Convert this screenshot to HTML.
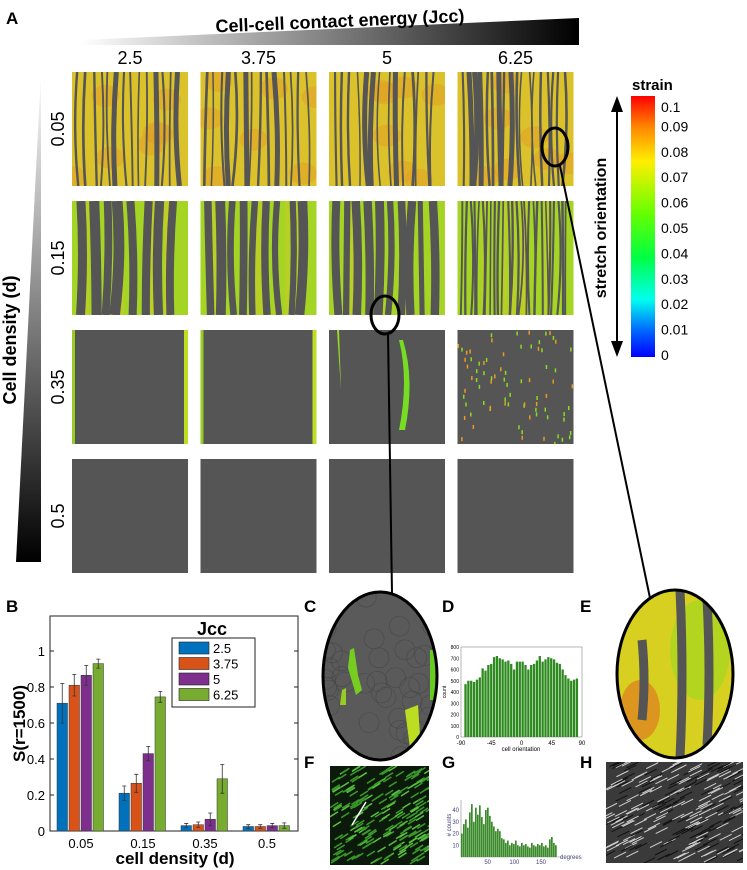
<!DOCTYPE html>
<html><head><meta charset="utf-8">
<style>
body{margin:0;background:#fff;width:747px;height:870px;overflow:hidden;font-family:"Liberation Sans",sans-serif}
svg{position:absolute;left:0;top:0}
</style></head><body>
<svg id="fig" width="747" height="870" viewBox="0 0 747 870">
<defs>
<linearGradient id="gH" x1="0" x2="1" y1="0" y2="0"><stop offset="0" stop-color="#fff"/><stop offset="1" stop-color="#000"/></linearGradient>
<linearGradient id="gV" x1="0" x2="0" y1="0" y2="1"><stop offset="0" stop-color="#fff"/><stop offset="1" stop-color="#000"/></linearGradient>
<linearGradient id="cbar" x1="0" x2="0" y1="0" y2="1">
<stop offset="0" stop-color="#ff0000"/><stop offset="0.12" stop-color="#ff8800"/><stop offset="0.25" stop-color="#ffee00"/><stop offset="0.45" stop-color="#66ff00"/><stop offset="0.62" stop-color="#00ff44"/><stop offset="0.78" stop-color="#00ffee"/><stop offset="0.9" stop-color="#0066ff"/><stop offset="1" stop-color="#0000ff"/></linearGradient>
<clipPath id="clipC"><ellipse cx="380" cy="676" rx="57" ry="84"/></clipPath>
<clipPath id="clipE"><ellipse cx="675" cy="674" rx="58" ry="84"/></clipPath>
</defs>

<text x="6" y="24" font-size="17" font-weight="bold">A</text>
<polygon points="81,40 579,18 579,45 81,45" fill="url(#gH)"/>
<text x="340" y="27" font-size="18" font-weight="bold" text-anchor="middle" transform="rotate(-2.5 340 22)">Cell-cell contact energy (Jcc)</text>
<g font-size="18" text-anchor="middle" id="colLabels"></g>
<polygon points="41,72 41,562 16,562" fill="url(#gV)"/>
<text x="0" y="0" font-size="18" font-weight="bold" text-anchor="middle" transform="translate(16 340) rotate(-90)">Cell density (d)</text>
<g id="rowLabels" font-size="18" text-anchor="middle"></g>
<g id="tiles"></g>

<text x="632" y="90" font-size="15" font-weight="bold">strain</text>
<rect x="631" y="96" width="24" height="261" fill="url(#cbar)"/>
<g id="cbTicks" font-size="14"></g>
<line x1="617" y1="108" x2="617" y2="345" stroke="#000" stroke-width="2"/>
<polygon points="617,96 611,112 623,112" fill="#000"/><polygon points="617,357 611,341 623,341" fill="#000"/>
<text font-size="16" font-weight="bold" text-anchor="middle" transform="translate(606 228) rotate(-90)">stretch orientation</text>

<ellipse cx="555" cy="147" rx="13" ry="19" fill="none" stroke="#000" stroke-width="3"/>
<line x1="560" y1="166" x2="650" y2="598" stroke="#000" stroke-width="2"/>
<ellipse cx="385" cy="315" rx="14" ry="19" fill="none" stroke="#000" stroke-width="3"/>
<line x1="388" y1="334" x2="392" y2="593" stroke="#000" stroke-width="2"/>

<text x="6" y="612" font-size="17" font-weight="bold">B</text>
<g id="chartB"></g>

<text x="304" y="612" font-size="17" font-weight="bold">C</text>
<g id="panelC"></g>
<text x="442" y="612" font-size="17" font-weight="bold">D</text>
<g id="chartD"></g>
<text x="580" y="612" font-size="17" font-weight="bold">E</text>
<g id="panelE"></g>
<text x="304" y="768" font-size="17" font-weight="bold">F</text>
<rect x="330" y="766" width="99" height="99" fill="#0c1a0c"/>
<g id="panelF"></g>
<text x="442" y="768" font-size="17" font-weight="bold">G</text>
<g id="chartG"></g>
<text x="580" y="768" font-size="17" font-weight="bold">H</text>
<rect x="606" y="762" width="137" height="101" fill="#3a3a3a"/>
<g id="panelH"></g>
</svg>
<script>
// ---- Chart B data ----
const bCategories = ["0.05","0.15","0.35","0.5"];
const bSeriesNames = ["2.5","3.75","5","6.25"];
const bColors = ["#0072bd","#d95319","#7e2f8e","#77ac30"];
const bS25 = [0.71,0.21,0.03,0.025];
const bS375 = [0.81,0.265,0.035,0.025];
const bS5 = [0.865,0.43,0.065,0.03];
const bS625 = [0.93,0.745,0.29,0.03];
const bErr25 = [0.11,0.04,0.012,0.01];
const bErr375 = [0.06,0.05,0.015,0.01];
const bErr5 = [0.055,0.04,0.035,0.012];
const bErr625 = [0.025,0.03,0.08,0.015];
const bTicks = [0,0.2,0.4,0.6,0.8,1];
// ---- Chart D data ----
const dValues = [470,500,500,490,510,530,610,590,640,650,710,720,700,690,670,680,650,600,670,670,670,640,600,640,650,680,720,670,690,710,700,690,660,650,600,550,520,500,510,520];
const dXTicks = [-90,-45,0,45,90];
const dYTicks = [0,100,200,300,400,500,600,700,800];
// ---- Chart G data ----
const gValues = [20,28,32,25,38,45,30,42,36,44,34,28,40,42,35,30,26,22,24,22,16,15,12,14,10,12,11,14,10,9,12,10,11,9,8,12,10,9,11,10,12,9,10,8,15,17,12,10];
const gXTicks = [50,100,150];
const gYTicks = [10,20,30,40];
const colLabels = ["2.5","3.75","5","6.25"];
const rowLabels = ["0.05","0.15","0.35","0.5"];
const cbTicks = [0,0.01,0.02,0.03,0.04,0.05,0.06,0.07,0.08,0.09,0.1];

const NS="http://www.w3.org/2000/svg";
function mk(tag,attrs,parent){const e=document.createElementNS(NS,tag);for(const k in attrs)e.setAttribute(k,attrs[k]);parent.appendChild(e);return e;}
let seed=7;function rnd(){seed=(seed*16807)%2147483647;return seed/2147483647;}

const cl=document.getElementById('colLabels');
colLabels.forEach((t,i)=>{const e=mk('text',{x:130+i*128.5,y:64},cl);e.textContent=t;

});
const rl=document.getElementById('rowLabels');
rowLabels.forEach((t,i)=>{const e=mk('text',{transform:`translate(64 ${129+i*129}) rotate(-90)`},rl);e.textContent=t;

});
const cb=document.getElementById('cbTicks');
cbTicks.forEach(v=>{const y=357-v/0.1*254;const e=mk('text',{x:661,y:y+(v===0.1?11:5)-2},cb);e.textContent=String(v);

});

// tiles
const tg=document.getElementById('tiles');
const defs=document.querySelector('defs');
for(let r=0;r<4;r++)for(let c=0;c<4;c++){
 const x=72+c*128.5,y=72+r*129,w=116,h=114;
 const cp=mk('clipPath',{id:`tc${r}${c}`},defs);mk('rect',{x,y,width:w,height:h},cp);
 const g=mk('g',{'clip-path':`url(#tc${r}${c})`},tg);
 
 
 let bg = r===0?'#dcc22a':(r===1?'#a4d424':'#555555');
 mk('rect',{x,y,width:w,height:h,fill:bg},g);
 if(r===0){for(let k=0;k<7;k++)mk('ellipse',{cx:x+rnd()*w,cy:y+rnd()*h,rx:14,ry:11,fill:'#e0a024',opacity:0.55},g);}
 if(r===1){for(let k=0;k<6;k++)mk('rect',{x:x+rnd()*w,y:y,width:5,height:h,fill:'#d8c828',opacity:0.4},g);}
 if(r<2){
   let n=r===0?(c===3?18:14):(c===3?26:8+c);
   for(let k=0;k<n;k++){const sx=x+4+(k+0.4*rnd())*(w-8)/n;
     let sw=r===0?1.4+rnd()*1.4:(c===3?1.5+rnd():(7-c)+rnd()*4);
     if(r===0&&rnd()>0.85)sw=5;
     mk('path',{d:`M${sx} ${y} Q${sx+(rnd()-0.5)*10} ${y+h/2} ${sx+(rnd()-0.5)*6} ${y+h}`,stroke:'#555',fill:'none','stroke-width':sw},g);}
 }
 if(r===2){
   if(c<2){mk('rect',{x:x,y,width:3,height:h,fill:'#9c2'},g);mk('rect',{x:x+w-4,y,width:4,height:h,fill:'#bd2'},g);}
   if(c===2){mk('path',{d:`M${x+8} ${y} L${x+12} ${y+60} L${x+10} ${y} Z`,fill:'#9d2'},g);
     mk('path',{d:`M${x+70} ${y+10} Q${x+80} ${y+50} ${x+70} ${y+100} L${x+76} ${y+100} Q${x+86} ${y+50} ${x+74} ${y+10} Z`,fill:'#7d2'},g);}
   if(c===3){for(let k=0;k<80;k++)mk('rect',{x:x+rnd()*w,y:y+rnd()*h,width:1.5,height:4,fill:rnd()>0.4?'#8d2':'#e92'},g);}
 }
}

// Chart B
(function(){
const g=document.getElementById('chartB');
const L=50,R=298,T=616,B=831;
const yS=v=>B-v*(B-651);
const series=[bS25,bS375,bS5,bS625],errs=[bErr25,bErr375,bErr5,bErr625];
mk('rect',{x:L,y:T,width:R-L,height:B-T,fill:'none',stroke:'#222','stroke-width':1},g);
bTicks.forEach(t=>{const y=yS(t);mk('line',{x1:L,x2:L+4,y1:y,y2:y,stroke:'#222'},g);mk('line',{x1:R-4,x2:R,y1:y,y2:y,stroke:'#222'},g);
 const e=mk('text',{x:L-5,y:y+5,'font-size':13,'text-anchor':'end'},g);e.textContent=String(t);
 
 });
const gw=(R-L)/4;
bCategories.forEach((cat,i)=>{const cx=L+gw*(i+0.5);
 const e=mk('text',{x:cx,y:B+17,'font-size':13,'text-anchor':'middle'},g);e.textContent=cat;
 
 
 series.forEach((s,j)=>{const bw=10.5,bx=cx-24+j*12;const y=yS(s[i]);
  const r=mk('rect',{x:bx,y:y,width:bw,height:B-y,fill:bColors[j],stroke:'#333','stroke-width':0.5},g);
  
  
  const e1=yS(s[i]+errs[j][i]),e2=yS(s[i]-errs[j][i]),m=bx+bw/2;
  mk('path',{d:`M${m} ${e1}V${e2}M${m-2} ${e1}H${m+2}M${m-2} ${e2}H${m+2}`,stroke:'#333','stroke-width':0.8},g);
 });
});
const yl=mk('text',{transform:`translate(25 ${(T+B)/2}) rotate(-90)`,'font-size':17,'font-weight':'bold','text-anchor':'middle'},g);yl.textContent='S(r=1500)';


const xl=mk('text',{x:175,y:864,'font-size':17,'font-weight':'bold','text-anchor':'middle'},g);xl.textContent='cell density (d)';


const lt=mk('text',{x:212,y:635,'font-size':18,'font-weight':'bold','text-anchor':'middle'},g);lt.textContent='Jcc';


mk('rect',{x:172,y:638,width:83,height:69,fill:'#fff',stroke:'#222'},g);
bSeriesNames.forEach((n,j)=>{const y=642+j*15.5;
 const sw=mk('rect',{x:179,y:y,width:30,height:12,fill:bColors[j],stroke:'#222','stroke-width':0.6},g);
 
 
 const t=mk('text',{x:213,y:y+11,'font-size':13},g);t.textContent=n;});
})();

// Panel C
(function(){const g=document.getElementById('panelC');
mk('ellipse',{cx:380,cy:676,rx:57,ry:84,fill:'#5a5a5a'},g);
const c=mk('g',{'clip-path':'url(#clipC)'},g);
for(let k=0;k<40;k++){mk('circle',{cx:325+rnd()*110,cy:592+rnd()*170,r:10,fill:'none',stroke:'#484848','stroke-width':0.6},c);}
mk('path',{d:'M350 650 L354 648 L358 675 L362 690 L356 695 L348 668 Z',fill:'#7c2'},c);
mk('path',{d:'M342 690 L346 688 L346 705 L340 705 Z',fill:'#9c2'},c);
mk('path',{d:'M405 710 L418 705 L420 735 L410 748 Z',fill:'#bd2'},c);
mk('path',{d:'M430 650 L436 650 L436 700 L430 700 Z',fill:'#6c2'},c);
mk('ellipse',{cx:380,cy:676,rx:57,ry:84,fill:'none',stroke:'#000','stroke-width':3},g);

})();

// Panel E
(function(){const g=document.getElementById('panelE');
mk('ellipse',{cx:675,cy:674,rx:58,ry:84,fill:'#d8d020'},g);
const c=mk('g',{'clip-path':'url(#clipE)'},g);
mk('ellipse',{cx:700,cy:650,rx:30,ry:50,fill:'#9cd820',opacity:0.6},c);
mk('ellipse',{cx:640,cy:710,rx:20,ry:30,fill:'#e07020',opacity:0.6},c);
[[642,640,720],[680,590,758],[707,600,745]].forEach(s=>mk('path',{d:`M${s[0]} ${s[1]} Q${s[0]+4} ${(s[1]+s[2])/2} ${s[0]} ${s[2]}`,stroke:'#555','stroke-width':9,fill:'none'},c));
mk('ellipse',{cx:675,cy:674,rx:58,ry:84,fill:'none',stroke:'#000','stroke-width':3},g);

})();

// Chart D
(function(){const g=document.getElementById('chartD');
const L=461,R=582,T=647,B=737;
const xS=v=>L+(v+90)/180*(R-L),yS=v=>B-v/800*(B-T);
mk('rect',{x:L,y:T,width:R-L,height:B-T,fill:'none',stroke:'#888','stroke-width':0.6},g);
const bw=(xS(85)-xS(-85))/dValues.length;
dValues.forEach((v,i)=>{const x=xS(-85)+i*bw;const r=mk('rect',{x:x,y:yS(v),width:bw*0.8,height:B-yS(v),fill:'#2d8a1e'},g);
 
 });
dXTicks.forEach(t=>{const e=mk('text',{x:xS(t),y:B+8,'font-size':6,'text-anchor':'middle'},g);e.textContent=String(t);});
dYTicks.forEach(t=>{const e=mk('text',{x:L-2,y:yS(t)+2,'font-size':5,'text-anchor':'end'},g);e.textContent=String(t);});
const xl=mk('text',{x:521,y:751,'font-size':6,'text-anchor':'middle'},g);xl.textContent='cell orientation';
const yl=mk('text',{transform:'translate(446 692) rotate(-90)','font-size':5,'text-anchor':'middle'},g);yl.textContent='count';})();

// Chart G
(function(){const g=document.getElementById('chartG');
const L=461,R=557,B=857;
const xS=v=>L+v/180*(R-L),yS=v=>B-v*47/40;
mk('line',{x1:L,x2:L,y1:800,y2:B,stroke:'#888','stroke-width':0.6},g);
mk('line',{x1:L,x2:R+5,y1:B,y2:B,stroke:'#888','stroke-width':0.6},g);
const bw=(R-L)/gValues.length;
gValues.forEach((v,i)=>{const r=mk('rect',{x:L+i*bw,y:yS(v),width:bw*0.85,height:B-yS(v),fill:'#3a8a2a'},g);
 
 });
gXTicks.forEach(t=>{const e=mk('text',{x:xS(t),y:B+7,'font-size':6,fill:'#447','text-anchor':'middle'},g);e.textContent=String(t);});
gYTicks.forEach(t=>{const e=mk('text',{x:L-2,y:yS(t)+2,'font-size':6,fill:'#447','text-anchor':'end'},g);e.textContent=String(t);});
const xl=mk('text',{x:560,y:859,'font-size':6,fill:'#447'},g);xl.textContent='degrees';
const yl=mk('text',{transform:'translate(451 825) rotate(-90)','font-size':6,fill:'#447','text-anchor':'middle'},g);yl.textContent='# counts';})();

// Panel F texture
(function(){const g=document.getElementById('panelF');
const cp=mk('clipPath',{id:'clipF'},defs);mk('rect',{x:330,y:766,width:99,height:99},cp);
const c=mk('g',{'clip-path':'url(#clipF)'},g);
for(let k=0;k<220;k++){const x=330+rnd()*99,y=770+rnd()*95;mk('line',{x1:x,y1:y,x2:x+8,y2:y-5,stroke:rnd()>0.3?'#3a9a2a':'#5ac040','stroke-width':1.5},c);}
mk('line',{x1:352,y1:825,x2:366,y2:802,stroke:'#fff','stroke-width':1.5},g);})();
// Panel H texture
(function(){const g=document.getElementById('panelH');
const cp=mk('clipPath',{id:'clipH'},defs);mk('rect',{x:606,y:762,width:137,height:101},cp);
const c=mk('g',{'clip-path':'url(#clipH)'},g);
for(let k=0;k<260;k++){const x=600+rnd()*145,y=764+rnd()*100;mk('line',{x1:x,y1:y,x2:x+12,y2:y-6,stroke:rnd()>0.45?'#cfcfcf':'#111','stroke-width':1},c);}})();
</script>
</body></html>
